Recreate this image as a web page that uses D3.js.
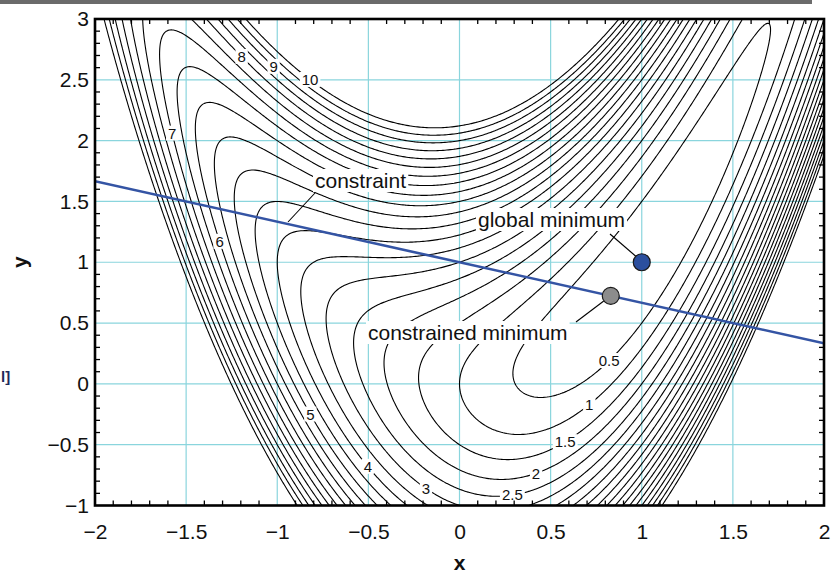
<!DOCTYPE html>
<html>
<head>
<meta charset="utf-8">
<script src="https://cdn.jsdelivr.net/npm/d3@7"></script>
<style>
  body { margin: 0; background: #fff; }
  svg { display: block; font-family: Arial, "Liberation Sans", sans-serif; }
</style>
</head>
<body>
<div id="chart"></div>
<script>
// ---- data ----
var xTicks = [-2, -1.5, -1, -0.5, 0, 0.5, 1, 1.5, 2];
var yTicks = [-1, -0.5, 0, 0.5, 1, 1.5, 2, 2.5, 3];
var levels = [0.5, 1, 1.5, 2, 2.5, 3, 3.5, 4, 4.5, 5, 5.5, 6, 6.5, 7, 7.5, 8, 8.5, 9, 9.5, 10];

// contour labels: level and where it sits (data coords)
var labelLevels = [0.5, 1, 1.5, 2, 2.5, 3, 4, 5, 6, 7, 8, 9, 10];
var labelX = [0.80, 0.70, 0.57, 0.41, 0.29, -0.18, -0.50, -0.83, -1.33, -1.59, -1.19, -1.02, -0.81];
var labelY = [0.23, -0.14, -0.44, -0.68, -0.90, -0.85, -0.67, -0.26, 1.16, 2.05, 2.69, 2.61, 2.52];

// surface f(x,y) = (1-x)^2 + w (y-x^2)^2
var valleyWeight = 2;

// linear constraint x + 3y = 3
var constraintX = [-2, 2];
var constraintY = [5 / 3, 1 / 3];

var minNames = ["global minimum", "constrained minimum"];
var minX = [1, 0.83];
var minY = [1, 0.723];
var minFill = ["#2b4f9e", "#8c8c8c"];

// ---- layout ----
var W = 838, H = 575;
var plot = {left: 95, right: 824, top: 19, bottom: 505.5};

var svg = d3.select("#chart").append("svg")
  .attr("width", W)
  .attr("height", H);

svg.append("rect").attr("width", W).attr("height", H).attr("fill", "#fff");
// dark strip along the top edge
svg.append("rect").attr("x", 0).attr("y", 0).attr("width", 812).attr("height", 4).attr("fill", "#6b6b6b");

var x = d3.scaleLinear().domain([-2, 2]).range([plot.left, plot.right]);
var y = d3.scaleLinear().domain([-1, 3]).range([plot.bottom, plot.top]);

svg.append("defs").append("clipPath").attr("id", "plotclip")
  .append("rect")
  .attr("x", plot.left).attr("y", plot.top)
  .attr("width", plot.right - plot.left).attr("height", plot.bottom - plot.top);

// grid
var grid = svg.append("g").attr("stroke", "#8ad5dd").attr("stroke-width", 1.2);
grid.selectAll("line.gx").data(xTicks).enter().append("line")
  .attr("x1", function(d){ return x(d); }).attr("x2", function(d){ return x(d); })
  .attr("y1", plot.top).attr("y2", plot.bottom);
grid.selectAll("line.gy").data(yTicks).enter().append("line")
  .attr("y1", function(d){ return y(d); }).attr("y2", function(d){ return y(d); })
  .attr("x1", plot.left).attr("x2", plot.right);

// ---- contours ----
var step = 0.01, gx0 = -2.03, gy0 = -1.03;
var nx = Math.round(4.06 / step) + 1, ny = Math.round(4.06 / step) + 1;
var values = new Array(nx * ny);
for (var j = 0; j < ny; j++) {
  var yy = gy0 + j * step;
  for (var i = 0; i < nx; i++) {
    var xx = gx0 + i * step;
    values[i + j * nx] = (1 - xx) * (1 - xx) + valleyWeight * Math.pow(yy - xx * xx, 2);
  }
}
var contours = d3.contours().size([nx, ny]).thresholds(levels)(values);

function toPx(p) {
  return [x(gx0 + (p[0] - 0.5) * step), y(gy0 + (p[1] - 0.5) * step)];
}
var proj = d3.geoTransform({
  point: function(px, py) {
    var q = toPx([px, py]);
    this.stream.point(q[0], q[1]);
  }
});
var path = d3.geoPath(proj);

var gCont = svg.append("g").attr("clip-path", "url(#plotclip)");
gCont.selectAll("path").data(contours).enter().append("path")
  .attr("d", path)
  .attr("fill", "none")
  .attr("stroke", "#000")
  .attr("stroke-width", 1.1)
  .attr("stroke-linejoin", "round");

// contour labels, snapped to the nearest vertex on their own level
var gLab = svg.append("g");
labelLevels.forEach(function(lv, k) {
  var c = contours.find(function(d){ return Math.abs(d.value - lv) < 1e-9; });
  var tx = x(labelX[k]), ty = y(labelY[k]);
  var best = [tx, ty], bestD = Infinity;
  c.coordinates.forEach(function(poly) {
    poly.forEach(function(ring) {
      ring.forEach(function(p) {
        var q = toPx(p);
        if (q[0] < plot.left + 8 || q[0] > plot.right - 8 || q[1] < plot.top + 8 || q[1] > plot.bottom - 8) return;
        var dd = (q[0] - tx) * (q[0] - tx) + (q[1] - ty) * (q[1] - ty);
        if (dd < bestD) { bestD = dd; best = q; }
      });
    });
  });
  var g = gLab.append("g");
  var t = g.append("text")
    .attr("x", best[0]).attr("y", best[1])
    .attr("dy", "0.35em")
    .attr("text-anchor", "middle")
    .attr("font-size", 15)
    .attr("fill", "#111")
    .text(String(lv));
  var bb = t.node().getBBox();
  g.insert("rect", "text")
    .attr("x", bb.x - 2).attr("y", bb.y + 1)
    .attr("width", bb.width + 4).attr("height", bb.height - 2)
    .attr("fill", "#fff");
});

// ---- annotations ----
function annotate(txt, left, base) {
  var g = svg.append("g");
  var t = g.append("text")
    .attr("x", left).attr("y", base)
    .attr("font-size", 21)
    .attr("fill", "#111")
    .text(txt);
  var bb = t.node().getBBox();
  g.insert("rect", "text")
    .attr("x", bb.x - 2).attr("y", bb.y)
    .attr("width", bb.width + 4).attr("height", bb.height)
    .attr("fill", "#fff");
}
annotate("constraint", 315, 188);
annotate(minNames[0], 478, 227);
annotate(minNames[1], 368, 340);

var leaders = svg.append("g").attr("stroke", "#000").attr("stroke-width", 1.1);
leaders.append("line").attr("x1", 315).attr("y1", 193).attr("x2", 288).attr("y2", 222);
leaders.append("line").attr("x1", 610).attr("y1", 234).attr("x2", x(minX[0]) - 6).attr("y2", y(minY[0]) - 6);
leaders.append("line").attr("x1", 576).attr("y1", 322).attr("x2", x(minX[1]) - 7).attr("y2", y(minY[1]) + 5);

// constraint line
svg.append("line")
  .attr("clip-path", "url(#plotclip)")
  .attr("x1", x(constraintX[0])).attr("y1", y(constraintY[0]))
  .attr("x2", x(constraintX[1])).attr("y2", y(constraintY[1]))
  .attr("stroke", "#3454a4")
  .attr("stroke-width", 2.6);

// minima
svg.selectAll("circle.min").data(minNames).enter().append("circle")
  .attr("class", "min")
  .attr("cx", function(d, i){ return x(minX[i]); })
  .attr("cy", function(d, i){ return y(minY[i]); })
  .attr("r", 8.5)
  .attr("fill", function(d, i){ return minFill[i]; })
  .attr("stroke", "#1a1a1a")
  .attr("stroke-width", 1.2);

// ---- frame and minor ticks ----
var minorX = d3.range(-20, 21).map(function(v){ return v / 10; }).filter(function(v){ return Math.abs(v * 2 - Math.round(v * 2)) > 1e-6; });
var minorY = d3.range(-10, 31).map(function(v){ return v / 10; }).filter(function(v){ return Math.abs(v * 2 - Math.round(v * 2)) > 1e-6; });
var tk = svg.append("g").attr("stroke", "#000").attr("stroke-width", 1.3);
var tl = 5;
minorX.forEach(function(v) {
  tk.append("line").attr("x1", x(v)).attr("x2", x(v)).attr("y1", plot.bottom).attr("y2", plot.bottom - tl);
  tk.append("line").attr("x1", x(v)).attr("x2", x(v)).attr("y1", plot.top).attr("y2", plot.top + tl);
});
minorY.forEach(function(v) {
  tk.append("line").attr("y1", y(v)).attr("y2", y(v)).attr("x1", plot.left).attr("x2", plot.left + tl);
  tk.append("line").attr("y1", y(v)).attr("y2", y(v)).attr("x1", plot.right).attr("x2", plot.right - tl);
});

svg.append("rect")
  .attr("x", plot.left).attr("y", plot.top)
  .attr("width", plot.right - plot.left).attr("height", plot.bottom - plot.top)
  .attr("fill", "none")
  .attr("stroke", "#000")
  .attr("stroke-width", 2.6);

// ---- axes labels ----
var fmt = d3.format("");
var xAxis = svg.append("g")
  .attr("transform", "translate(0," + plot.bottom + ")")
  .call(d3.axisBottom(x).tickValues(xTicks).tickSize(0).tickPadding(19).tickFormat(fmt));
var yAxis = svg.append("g")
  .attr("transform", "translate(" + plot.left + ",0)")
  .call(d3.axisLeft(y).tickValues(yTicks).tickSize(0).tickPadding(6).tickFormat(fmt));
[xAxis, yAxis].forEach(function(a) {
  a.select(".domain").remove();
  a.selectAll("text").attr("font-size", 21).attr("fill", "#111").attr("font-family", "Arial, 'Liberation Sans', sans-serif");
});

svg.append("text")
  .attr("x", x(0)).attr("y", 570)
  .attr("text-anchor", "middle")
  .attr("font-size", 21).attr("font-weight", "bold")
  .attr("fill", "#111")
  .text("x");
svg.append("text")
  .attr("transform", "translate(27," + y(1) + ") rotate(-90)")
  .attr("text-anchor", "middle")
  .attr("font-size", 21).attr("font-weight", "bold")
  .attr("fill", "#111")
  .text("y");

// small fragment at the far left edge
svg.append("text")
  .attr("x", 1).attr("y", 382)
  .attr("font-size", 15).attr("font-weight", "bold")
  .attr("fill", "#1e2a5a")
  .text("l]");
</script>
</body>
</html>
